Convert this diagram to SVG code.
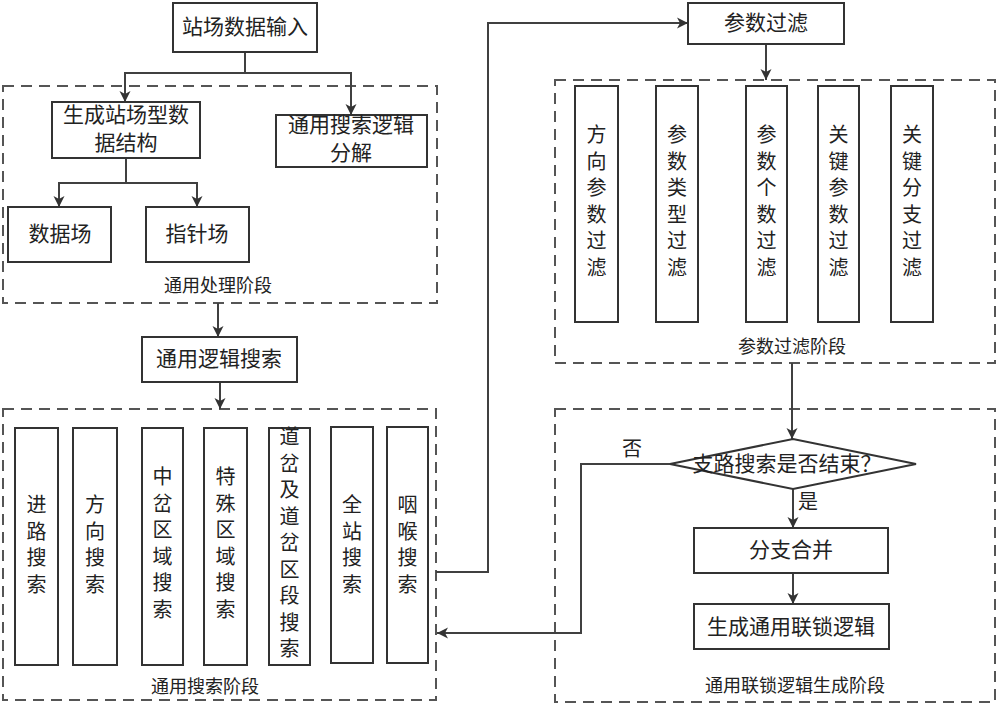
<svg xmlns="http://www.w3.org/2000/svg" width="1000" height="711" viewBox="0 0 1000 711">
<style>
text{font-family:"Liberation Serif","Noto Sans CJK SC",serif;fill:#222;text-anchor:middle;dominant-baseline:central}
.t{font-size:20px}
.h{font-size:21px}
.s{font-size:18px}
.box{fill:#fff;stroke:#333;stroke-width:2}
.stage{fill:none;stroke:#555;stroke-width:2;stroke-dasharray:11 7}
.c{fill:none;stroke:#404040;stroke-width:2;marker-end:url(#ah)}
</style>
<defs>
<marker id="ah" markerUnits="userSpaceOnUse" markerWidth="12" markerHeight="12" refX="11" refY="6" orient="auto">
<path d="M0,0.5 L11,6 L0,11.5 L3,6 z" fill="#333"/>
</marker>
</defs>
<rect width="1000" height="711" fill="#fff"/>

<g id="stage1">
<rect class="stage" x="3" y="86" width="434" height="217"/>
<text class="s" x="218" y="286">通用处理阶段</text>
</g>
<g id="stage2">
<rect class="stage" x="3" y="409" width="433" height="291"/>
<text class="s" x="205" y="687">通用搜索阶段</text>
</g>
<g id="stage3">
<rect class="stage" x="555" y="80" width="440" height="283"/>
<text class="s" x="792" y="347">参数过滤阶段</text>
</g>
<g id="stage4">
<rect class="stage" x="555" y="409" width="440" height="293"/>
<text class="s" x="795" y="686">通用联锁逻辑生成阶段</text>
</g>

<g id="connectors">
<path class="c" d="M245,52 V73 H125 V102"/>
<path class="c" d="M245,73 H351 V115"/>
<path class="c" d="M126,158 V183 H59 V207"/>
<path class="c" d="M126,183 H197 V207"/>
<path class="c" d="M218,303 V337"/>
<path class="c" d="M220,382 V409"/>
<path class="c" d="M436,572 H488 V23 H688"/>
<path class="c" d="M766,44 V80"/>
<path class="c" d="M792,363 V439"/>
<path class="c" d="M793,489 V528"/>
<path class="c" d="M793,573 V604"/>
<path class="c" d="M670,464 H581 V633 H437"/>
<text class="t" x="632" y="449">否</text>
<text class="t" x="808" y="502">是</text>
</g>

<g id="n_input">
<rect class="box" x="173" y="3" width="144" height="49"/>
<text class="h" x="245" y="27">站场数据输入</text>
</g>
<g id="n_gen">
<rect class="box" x="52" y="102" width="148" height="56"/>
<text class="h" x="126" y="115">生成站场型数</text>
<text class="h" x="126" y="143">据结构</text>
</g>
<g id="n_decomp">
<rect class="box" x="276" y="115" width="151" height="52"/>
<text class="h" x="351" y="125">通用搜索逻辑</text>
<text class="h" x="351" y="153">分解</text>
</g>
<g id="n_data">
<rect class="box" x="8" y="207" width="103" height="55"/>
<text class="h" x="60" y="234">数据场</text>
</g>
<g id="n_pointer">
<rect class="box" x="146" y="207" width="103" height="55"/>
<text class="h" x="197" y="234">指针场</text>
</g>
<g id="n_logic">
<rect class="box" x="142" y="337" width="155" height="45"/>
<text class="h" x="219" y="359">通用逻辑搜索</text>
</g>

<g id="n_route">
<rect class="box" x="15" y="428" width="43" height="237"/>
<text class="t" x="36.5"><tspan x="36.5" y="505">进</tspan><tspan x="36.5" y="531.5">路</tspan><tspan x="36.5" y="558">搜</tspan><tspan x="36.5" y="584.5">索</tspan></text>
</g>
<g id="n_dir">
<rect class="box" x="73" y="428" width="44" height="237"/>
<text class="t" x="95"><tspan x="95" y="505">方</tspan><tspan x="95" y="531.5">向</tspan><tspan x="95" y="558">搜</tspan><tspan x="95" y="584.5">索</tspan></text>
</g>
<g id="n_mid">
<rect class="box" x="142" y="428" width="41" height="237"/>
<text class="t" x="162.5"><tspan x="162.5" y="477">中</tspan><tspan x="162.5" y="503.5">岔</tspan><tspan x="162.5" y="530">区</tspan><tspan x="162.5" y="556.5">域</tspan><tspan x="162.5" y="583">搜</tspan><tspan x="162.5" y="609.5">索</tspan></text>
</g>
<g id="n_special">
<rect class="box" x="204" y="428" width="43" height="237"/>
<text class="t" x="225.5"><tspan x="225.5" y="477">特</tspan><tspan x="225.5" y="503.5">殊</tspan><tspan x="225.5" y="530">区</tspan><tspan x="225.5" y="556.5">域</tspan><tspan x="225.5" y="583">搜</tspan><tspan x="225.5" y="609.5">索</tspan></text>
</g>
<g id="n_switch">
<rect class="box" x="269" y="428" width="41" height="237"/>
<text class="t" x="289.5"><tspan x="289.5" y="437">道</tspan><tspan x="289.5" y="463.5">岔</tspan><tspan x="289.5" y="490">及</tspan><tspan x="289.5" y="516.5">道</tspan><tspan x="289.5" y="543">岔</tspan><tspan x="289.5" y="569.5">区</tspan><tspan x="289.5" y="596">段</tspan><tspan x="289.5" y="622.5">搜</tspan><tspan x="289.5" y="649">索</tspan></text>
</g>
<g id="n_station">
<rect class="box" x="331" y="427" width="42" height="236"/>
<text class="t" x="352"><tspan x="352" y="505">全</tspan><tspan x="352" y="531.5">站</tspan><tspan x="352" y="558">搜</tspan><tspan x="352" y="584.5">索</tspan></text>
</g>
<g id="n_throat">
<rect class="box" x="387" y="427" width="41" height="236"/>
<text class="t" x="407.5"><tspan x="407.5" y="505">咽</tspan><tspan x="407.5" y="531.5">喉</tspan><tspan x="407.5" y="558">搜</tspan><tspan x="407.5" y="584.5">索</tspan></text>
</g>

<g id="n_param">
<rect class="box" x="688" y="3" width="156" height="41"/>
<text class="h" x="766" y="23">参数过滤</text>
</g>
<g id="n_f1">
<rect class="box" x="575" y="86" width="43" height="236"/>
<text class="t" x="596.5"><tspan x="596.5" y="135">方</tspan><tspan x="596.5" y="161.5">向</tspan><tspan x="596.5" y="188">参</tspan><tspan x="596.5" y="214.5">数</tspan><tspan x="596.5" y="241">过</tspan><tspan x="596.5" y="267.5">滤</tspan></text>
</g>
<g id="n_f2">
<rect class="box" x="656" y="86" width="42" height="236"/>
<text class="t" x="677"><tspan x="677" y="135">参</tspan><tspan x="677" y="161.5">数</tspan><tspan x="677" y="188">类</tspan><tspan x="677" y="214.5">型</tspan><tspan x="677" y="241">过</tspan><tspan x="677" y="267.5">滤</tspan></text>
</g>
<g id="n_f3">
<rect class="box" x="746" y="86" width="41" height="236"/>
<text class="t" x="766.5"><tspan x="766.5" y="135">参</tspan><tspan x="766.5" y="161.5">数</tspan><tspan x="766.5" y="188">个</tspan><tspan x="766.5" y="214.5">数</tspan><tspan x="766.5" y="241">过</tspan><tspan x="766.5" y="267.5">滤</tspan></text>
</g>
<g id="n_f4">
<rect class="box" x="818" y="86" width="41" height="236"/>
<text class="t" x="838.5"><tspan x="838.5" y="135">关</tspan><tspan x="838.5" y="161.5">键</tspan><tspan x="838.5" y="188">参</tspan><tspan x="838.5" y="214.5">数</tspan><tspan x="838.5" y="241">过</tspan><tspan x="838.5" y="267.5">滤</tspan></text>
</g>
<g id="n_f5">
<rect class="box" x="891" y="86" width="42" height="236"/>
<text class="t" x="912"><tspan x="912" y="135">关</tspan><tspan x="912" y="161.5">键</tspan><tspan x="912" y="188">分</tspan><tspan x="912" y="214.5">支</tspan><tspan x="912" y="241">过</tspan><tspan x="912" y="267.5">滤</tspan></text>
</g>

<g id="n_decision">
<polygon points="670,464 793,439 916,464 793,489" fill="#fff" stroke="#333" stroke-width="2"/>
<text class="h" x="787" y="464">支路搜索是否结束？</text>
</g>
<g id="n_merge">
<rect class="box" x="694" y="528" width="194" height="45"/>
<text class="h" x="791" y="550">分支合并</text>
</g>
<g id="n_genlogic">
<rect class="box" x="694" y="604" width="195" height="45"/>
<text class="h" x="791" y="627">生成通用联锁逻辑</text>
</g>
</svg>
